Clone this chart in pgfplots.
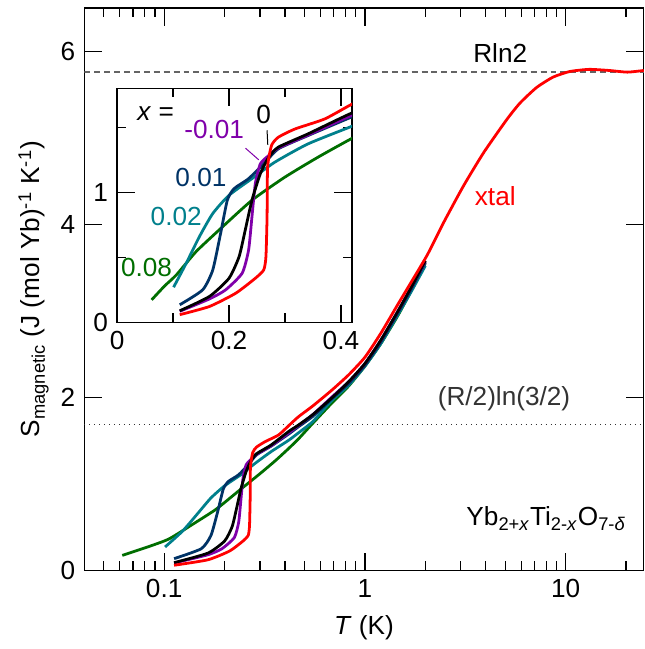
\documentclass[border=0pt]{standalone}
\usepackage{fontspec}
\setmainfont{Liberation Sans}
\usepackage{pgfplots}
\pgfplotsset{compat=1.18}
\usepackage{pgfplotstable}

\definecolor{cpurple}{RGB}{128,0,170}
\definecolor{cnavy}{RGB}{0,51,102}
\definecolor{cteal}{RGB}{0,128,140}
\definecolor{cgreen}{RGB}{0,110,0}
\definecolor{cgray}{RGB}{100,100,100}

% T (K)   S (J/mol K)
\pgfplotstableread{
T S
0.112 0.059
0.165 0.122
0.212 0.224
0.247 0.339
0.262 0.403
0.266 0.505
0.268 0.811
0.269 1.194
0.276 1.36
0.288 1.423
0.318 1.487
0.371 1.564
0.418 1.674
0.467 1.776
0.55 1.90
0.682 2.08
0.83 2.26
1.0 2.463
1.2 2.74
1.456 3.07
1.7 3.33
2.05 3.65
2.48 4.03
3.11 4.45
3.91 4.83
5.09 5.21
5.92 5.40
7.16 5.58
8.65 5.70
10.47 5.765
13.1 5.79
16.5 5.777
20.3 5.758
24.5 5.777
}\xtal

\pgfplotstableread{
T S
0.112 0.089
0.165 0.199
0.2 0.339
0.218 0.505
0.229 0.709
0.241 0.939
0.256 1.143
0.271 1.27
0.288 1.347
0.341 1.449
0.418 1.607
0.467 1.68
0.55 1.80
0.682 1.99
0.83 2.18
1.0 2.39
1.2 2.66
1.456 2.99
1.7 3.27
2.0 3.58
}\xzero

\pgfplotstableread{
T S
0.112 0.085
0.165 0.18
0.194 0.25
0.2235 0.378
0.235 0.556
0.241 0.811
0.247 1.066
0.256 1.219
0.271 1.283
0.288 1.34
0.341 1.44
0.418 1.59
0.467 1.675
0.55 1.80
0.682 2.0
0.83 2.18
1.0 2.39
1.2 2.66
1.456 2.99
1.7 3.27
2.0 3.57
}\xmone

\pgfplotstableread{
T S
0.112 0.135
0.153 0.25
0.171 0.403
0.185 0.684
0.197 0.939
0.209 1.028
0.235 1.105
0.265 1.232
0.288 1.334
0.341 1.436
0.418 1.577
0.467 1.66
0.55 1.78
0.682 1.98
0.83 2.16
1.0 2.37
1.2 2.64
1.456 2.97
1.7 3.25
2.0 3.56
}\xone

\pgfplotstableread{
T S
0.101 0.270
0.1235 0.454
0.147 0.658
0.171 0.837
0.2 0.977
0.241 1.105
0.282 1.232
0.341 1.372
0.418 1.505
0.467 1.59
0.55 1.72
0.682 1.96
0.83 2.14
1.0 2.36
1.2 2.62
1.456 2.95
1.7 3.22
2.0 3.52
}\xtwo

\pgfplotstableread{
T S
0.0618 0.173
0.085 0.28
0.106 0.365
0.141 0.543
0.182 0.709
0.241 0.939
0.3 1.117
0.359 1.27
0.418 1.411
0.467 1.52
0.543 1.686
0.682 1.93
0.83 2.13
1.0 2.36
1.2 2.62
1.456 2.94
1.7 3.23
2.0 3.55
}\xeight

\begin{document}
\fontsize{13.2}{16}\selectfont
\begin{tikzpicture}
\pgfplotsset{
  every axis/.append style={
    scale only axis,
    tick align=inside,
    major tick length=9pt,
    minor tick length=4.5pt,
    axis line style={line width=0.7pt},
    every tick/.style={black,line width=0.6pt},
    /pgf/number format/assume math mode=true,
  },
  curve/.style={line width=1.4pt,smooth,tension=0.35},
}
\begin{axis}[
  name=main,
  width=282pt, height=283.5pt,
  xmode=log,
  xmin=0.04, xmax=24.5, ymin=0, ymax=6.5,
  xtick={0.1,1,10}, xticklabels={0.1,1,10},
  minor xtick={0.04,0.05,0.06,0.07,0.08,0.09,0.2,0.3,0.4,0.5,0.6,0.7,0.8,0.9,2,3,4,5,6,7,8,9,20},
  ytick={0,2,4,6},
  xlabel={\textit{T} (K)},
  ylabel={S\textsubscript{magnetic} (J (mol Yb)\textsuperscript{-1} K\textsuperscript{-1})},
  ylabel style={at={(ticklabel cs:0.5,-3pt)}},
]
\addplot[cgray,line width=0.9pt,dash pattern=on 3pt off 2pt] coordinates {(0.04,5.763) (24.5,5.763)};
\addplot[black!80,line width=0.6pt,dash pattern=on 0.5pt off 2pt] coordinates {(0.04,1.686) (24.5,1.686)};
\addplot[curve,cgreen] table[x=T,y=S] {\xeight};
\addplot[curve,cteal] table[x=T,y=S] {\xtwo};
\addplot[curve,cnavy] table[x=T,y=S] {\xone};
\addplot[curve,cpurple] table[x=T,y=S] {\xmone};
\addplot[curve,black] table[x=T,y=S] {\xzero};
\addplot[curve,red] table[x=T,y=S] {\xtal};
\node[anchor=base] at (axis cs:4.72,5.87) {Rln2};
\node[anchor=base,text=red] at (axis cs:4.46,4.22) {xtal};
\node[anchor=base,text=black!80] at (axis cs:4.93,1.91) {(R/2)ln(3/2)};
\node[anchor=base] at (axis cs:8.0,0.515) {Yb\textsubscript{2+\textit{x}}Ti\textsubscript{2-\textit{x}}O\textsubscript{7-\textit{δ}}};
\end{axis}
\begin{axis}[
  at={(main.south west)}, anchor=south west, xshift=16.5pt, yshift=125pt,
  width=118.5pt, height=118pt,
  axis background/.style={fill=white},
  xmin=0, xmax=0.42, ymin=0, ymax=1.8,
  xtick={0,0.2,0.4}, xticklabels={0,0.2,0.4},
  minor xtick={0.1,0.3},
  ytick={0,1}, yticklabels={0,1},
  minor ytick={0.5,1.5},
]
\addplot[curve,cgreen] table[x=T,y=S] {\xeight};
\addplot[curve,cteal] table[x=T,y=S] {\xtwo};
\addplot[curve,cnavy] table[x=T,y=S] {\xone};
\addplot[curve,cpurple] table[x=T,y=S] {\xmone};
\addplot[curve,black] table[x=T,y=S] {\xzero};
\addplot[curve,red] table[x=T,y=S] {\xtal};
\draw[black,line width=0.5pt] (axis cs:0.268,1.477) -- (axis cs:0.2693,1.364);
\draw[cpurple,line width=0.5pt] (axis cs:0.2295,1.339) -- (axis cs:0.2531,1.25);
\node[anchor=base] at (axis cs:0.069,1.553) {\textit{x} =};
\node[anchor=base] at (axis cs:0.2619,1.528) {0};
\node[anchor=base,text=cpurple] at (axis cs:0.1735,1.414) {-0.01};
\node[anchor=base,text=cnavy] at (axis cs:0.1499,1.043) {0.01};
\node[anchor=base,text=cteal] at (axis cs:0.1057,0.745) {0.02};
\node[anchor=base,text=cgreen] at (axis cs:0.0526,0.354) {0.08};
\end{axis}
\path (main.north east) ++(0.5pt,4pt);
\path (main.south west) ++(-42.5pt,-31pt);
\end{tikzpicture}
\end{document}
